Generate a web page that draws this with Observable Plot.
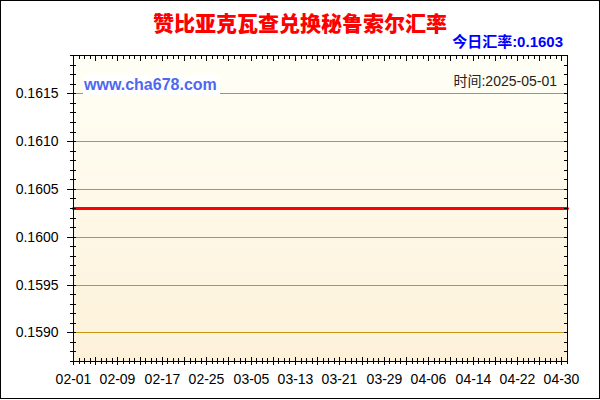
<!DOCTYPE html>
<html>
<head>
<meta charset="utf-8">
<script src="https://cdn.jsdelivr.net/npm/d3@7"></script>
<script src="https://cdn.jsdelivr.net/npm/@observablehq/plot@0.6"></script>
<style>
  html, body { margin: 0; padding: 0; background: #fff; }
  #box { position: relative; width: 600px; height: 399px; box-sizing: border-box; border: 1px solid #000; background: #fff; overflow: hidden; }
  #title { position: absolute; left: 0; right: 0; top: 11px; text-align: center; font: 900 21px/21px "Noto Sans CJK SC", sans-serif; color: #ff0000; }
  #rate { position: absolute; right: 36px; top: 33px; font: bold 15px/15px "Liberation Sans", "Noto Sans CJK SC", sans-serif; color: #0000ff; white-space: nowrap; }
  #chart { position: absolute; left: 0; top: 49px; }
  #wm { position: absolute; left: 82px; top: 74px; height: 20px; padding: 0 3px 0 1px; background: #fff; font: bold 16px/20px "Liberation Sans", Arial, sans-serif; color: #5068f0; white-space: nowrap; }
  #time { position: absolute; right: 42px; top: 73px; font: 14px/14px "Liberation Sans", "Noto Sans CJK SC", sans-serif; color: #222; white-space: nowrap; }
</style>
</head>
<body>
<div id="box">
  <div id="title"></div>
  <div id="rate"></div>
  <div id="chart"></div>
  <div id="wm"></div>
  <div id="time"></div>
</div>
<script>
// ---- data ----
const titleText = "赞比亚克瓦查兑换秘鲁索尔汇率";
const rateLabel = "今日汇率:0.1603";
const watermark = "www.cha678.com";
const timeLabel = "时间:2025-05-01";

const dateStart = "2025-02-01";
const dateEnd = "2025-05-01";
const xLabels = ["02-01","02-09","02-17","02-25","03-05","03-13","03-21","03-29","04-06","04-14","04-22","04-30"];
const yMajor = [0.1590, 0.1595, 0.1600, 0.1605, 0.1610, 0.1615];
const yDomain = [0.1587, 0.1619];

// daily rate values 02-01 .. 05-01
const rateValues = [
  0.1603,0.1603,0.1603,0.1603,0.1603,0.1603,0.1603,0.1603,0.1603,0.1603,
  0.1603,0.1603,0.1603,0.1603,0.1603,0.1603,0.1603,0.1603,0.1603,0.1603,
  0.1603,0.1603,0.1603,0.1603,0.1603,0.1603,0.1603,0.1603,0.1603,0.1603,
  0.1603,0.1603,0.1603,0.1603,0.1603,0.1603,0.1603,0.1603,0.1603,0.1603,
  0.1603,0.1603,0.1603,0.1603,0.1603,0.1603,0.1603,0.1603,0.1603,0.1603,
  0.1603,0.1603,0.1603,0.1603,0.1603,0.1603,0.1603,0.1603,0.1603,0.1603,
  0.1603,0.1603,0.1603,0.1603,0.1603,0.1603,0.1603,0.1603,0.1603,0.1603,
  0.1603,0.1603,0.1603,0.1603,0.1603,0.1603,0.1603,0.1603,0.1603,0.1603,
  0.1603,0.1603,0.1603,0.1603,0.1603,0.1603,0.1603,0.1603,0.1603,0.1603
];

// ---- derived ----
const start = new Date(dateStart + "T00:00:00Z");
const end = new Date(dateEnd + "T00:00:00Z");
const days = d3.utcDay.range(start, d3.utcDay.offset(end, 1));
const rateData = days.map((d, i) => ({date: d, rate: rateValues[i]}));
const xMinor = days;
const xMajor = days.filter((d, i) => i % 4 === 0);
const xLabelDates = xLabels.map(s => new Date("2025-" + s + "T00:00:00Z"));
const yMinor = d3.range(Math.round(yDomain[0] * 10000), Math.round(yDomain[1] * 10000) + 1).map(v => v / 10000);

document.getElementById("title").textContent = titleText;
document.getElementById("rate").textContent = rateLabel;
document.getElementById("wm").textContent = watermark;
document.getElementById("time").textContent = timeLabel;

const gridColor = "#c8960c";

const chart = Plot.plot({
  width: 598,
  height: 348,
  marginTop: 5,
  marginBottom: 37,
  marginLeft: 72,
  marginRight: 32,
  style: {fontFamily: "'Liberation Sans', Arial, sans-serif", fontSize: "14px", background: "transparent", color: "#000", overflow: "visible"},
  x: {type: "utc", domain: [start, end], axis: null, round: true},
  y: {domain: yDomain, axis: null, round: true},
  marks: [
    Plot.frame({fill: "url(#bgGrad)"}),
    Plot.ruleY(yMajor, {stroke: gridColor, strokeWidth: 1, shapeRendering: "crispEdges"}),
    Plot.lineY(rateData, {x: "date", y: "rate", stroke: "#ff0000", strokeWidth: 3}),
    Plot.frame({stroke: "#000", shapeRendering: "crispEdges"}),
    // left axis
    Plot.axisY(yMinor, {tickSize: 6, insetLeft: 3, fill: "none", label: null}),
    Plot.axisY(yMajor, {tickSize: 7, insetLeft: 1, fill: "none", label: null}),
    Plot.axisY(yMajor, {tickSize: 0, tickPadding: 15, tickFormat: d3.format(".4f"), label: null}),
    // right axis (inward)
    Plot.axisY(yMinor, {anchor: "right", tickSize: 4, insetRight: 4, fill: "none", label: null}),
    // bottom axis
    Plot.axisX(xMinor, {tickSize: 6, insetBottom: 3, fill: "none", label: null}),
    Plot.axisX(xMajor, {tickSize: 8, insetBottom: 4, fill: "none", label: null}),
    Plot.axisX(xLabelDates, {tickSize: 0, tickPadding: 13, tickFormat: d3.utcFormat("%m-%d"), label: null}),
    // top axis (inward)
    Plot.axisX(xMinor, {anchor: "top", tickSize: 3, insetTop: 3, fill: "none", label: null}),
    Plot.axisX(xMajor, {anchor: "top", tickSize: 5, insetTop: 5, fill: "none", label: null})
  ]
});

const ns = "http://www.w3.org/2000/svg";
const defs = document.createElementNS(ns, "defs");
const grad = document.createElementNS(ns, "linearGradient");
grad.setAttribute("id", "bgGrad");
grad.setAttribute("x1", "0"); grad.setAttribute("y1", "0");
grad.setAttribute("x2", "0"); grad.setAttribute("y2", "1");
[["0", "#fffff6"], ["1", "#fdf1d9"]].forEach(([o, c]) => {
  const s = document.createElementNS(ns, "stop");
  s.setAttribute("offset", o);
  s.setAttribute("stop-color", c);
  grad.appendChild(s);
});
defs.appendChild(grad);
chart.insertBefore(defs, chart.firstChild);

document.getElementById("chart").appendChild(chart);
</script>
</body>
</html>
